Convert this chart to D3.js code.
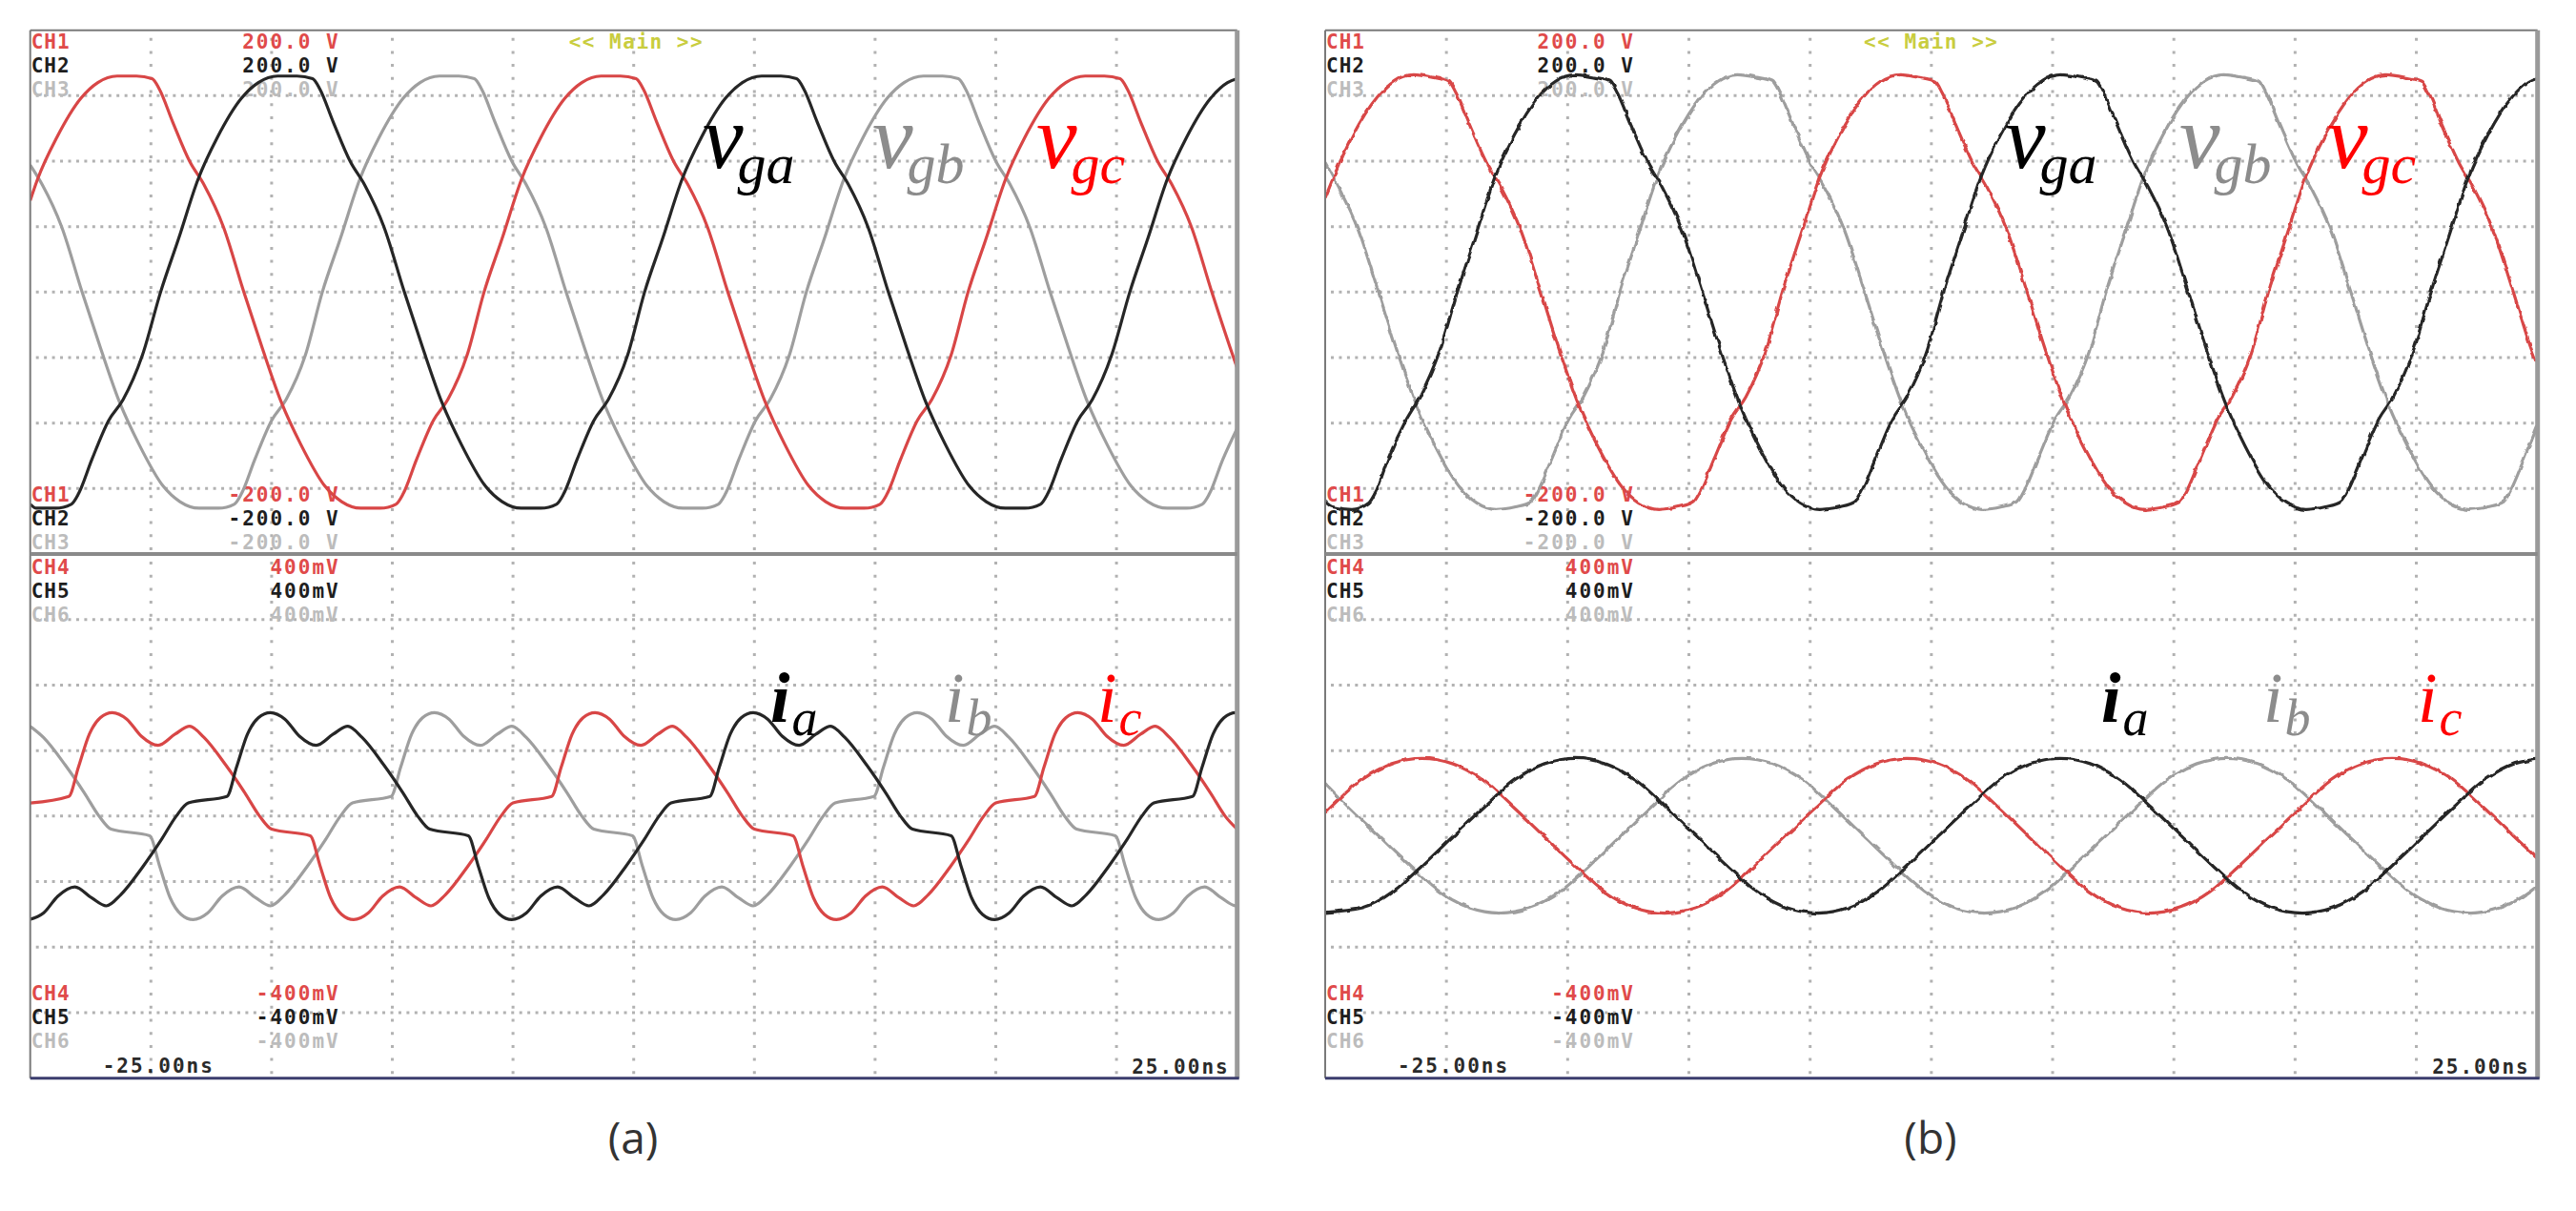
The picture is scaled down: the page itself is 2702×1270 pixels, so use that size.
<!DOCTYPE html>
<html>
<head>
<meta charset="utf-8">
<script src="https://cdn.jsdelivr.net/npm/d3@7"></script>
<style>
  body { margin: 0; background: #fff; }
  svg { display: block; }
</style>
</head>
<body>
<svg id="chart" width="2702" height="1270"></svg>
<script>
// time axis in ms, 5 ms / div, 10 div
const timeDomain = [-25, 25]
const gridT = [-20, -15, -10, -5, 0, 5, 10, 15, 20]
const gridV = [-150, -100, -50, 0, 50, 100, 150]
const gridI = [-300, -200, -100, 0, 100, 200, 300]

const chV = ['CH1', 'CH2', 'CH3']
const chI = ['CH4', 'CH5', 'CH6']
const voltTop = ['200.0 V', '200.0 V', '200.0 V']
const voltBot = ['-200.0 V', '-200.0 V', '-200.0 V']
const curTop = ['400mV', '400mV', '400mV']
const curBot = ['-400mV', '-400mV', '-400mV']
const timeLabels = ['-25.00ns', '25.00ns']
const panelNames = ['(a)', '(b)']

// ---- panel (a) grid voltages [ms, V] ----
const vgaA = [[-25,-162],[-24.75,-165],[-23.95,-165],[-23.3,-162],[-23.0,-154],[-22.45,-128],[-21.75,-98],[-21.15,-82],[-20.35,-48],
  [-19.6,0],[-18.85,41],[-18.05,86],[-17.25,118],[-16.25,148],[-15.55,160],[-14.75,165],[-13.95,165],[-13.3,163],[-13.0,155],[-12.45,130],[-11.75,100],[-11.15,82],[-10.35,50],[-9.5,0],[-8.75,-42],[-7.95,-84],[-7.15,-116],[-6.15,-148],[-5.45,-160],[-4.65,-165],[-3.85,-165],[-3.2,-162],[-2.9,-154],[-2.35,-128],[-1.65,-98],[-1.05,-82],[-0.25,-48],
  [0.45,0],[1.2,41],[2.0,86],[2.8,118],[3.8,148],[4.5,160],[5.3,165],[6.1,165],[6.75,163],[7.05,155],[7.6,130],[8.3,100],[8.9,82],[9.7,50],[10.55,0],[11.3,-42],[12.1,-84],[12.9,-116],[13.9,-148],[14.6,-160],[15.4,-165],[16.2,-165],[16.85,-162],[17.15,-154],[17.7,-128],[18.4,-98],[19.0,-82],[19.8,-48],
  [20.55,0],[21.3,41],[22.1,86],[22.9,118],[23.9,148],[24.6,160],[25,163]]
const vgbA = [[-25,97],[-24.5,82],[-23.7,50],[-22.85,0],[-22.1,-42],[-21.3,-84],[-20.5,-116],[-19.5,-148],[-18.8,-160],[-18.0,-165],[-17.2,-165],[-16.55,-162],[-16.25,-154],[-15.7,-128],[-15.0,-98],[-14.4,-82],[-13.6,-48],
  [-12.9,0],[-12.15,41],[-11.35,86],[-10.55,118],[-9.55,148],[-8.85,160],[-8.05,165],[-7.25,165],[-6.6,163],[-6.3,155],[-5.75,130],[-5.05,100],[-4.45,82],[-3.65,50],[-2.8,0],[-2.05,-42],[-1.25,-84],[-0.45,-116],[0.55,-148],[1.25,-160],[2.05,-165],[2.85,-165],[3.5,-162],[3.8,-154],[4.35,-128],[5.05,-98],[5.65,-82],[6.45,-48],
  [7.15,0],[7.9,41],[8.7,86],[9.5,118],[10.5,148],[11.2,160],[12.0,165],[12.8,165],[13.45,163],[13.75,155],[14.3,130],[15.0,100],[15.6,82],[16.4,50],[17.25,0],[18.0,-42],[18.8,-84],[19.6,-116],[20.6,-148],[21.3,-160],[22.1,-165],[22.9,-165],[23.55,-162],[23.85,-154],[24.4,-128],[25,-104]]
const vgcA = [[-25,70],[-24.7,86],[-23.9,118],[-22.9,148],[-22.2,160],[-21.4,165],[-20.6,165],[-19.95,163],[-19.65,155],[-19.1,130],[-18.4,100],[-17.8,82],[-17.0,50],[-16.15,0],[-15.4,-42],[-14.6,-84],[-13.8,-116],[-12.8,-148],[-12.1,-160],[-11.3,-165],[-10.5,-165],[-9.85,-162],[-9.55,-154],[-9.0,-128],[-8.3,-98],[-7.7,-82],[-6.9,-48],
  [-6.2,0],[-5.45,41],[-4.65,86],[-3.85,118],[-2.85,148],[-2.15,160],[-1.35,165],[-0.55,165],[0.1,163],[0.4,155],[0.95,130],[1.65,100],[2.25,82],[3.05,50],[3.9,0],[4.65,-42],[5.45,-84],[6.25,-116],[7.25,-148],[7.95,-160],[8.75,-165],[9.55,-165],[10.2,-162],[10.5,-154],[11.05,-128],[11.75,-98],[12.35,-82],[13.15,-48],
  [13.85,0],[14.6,41],[15.4,86],[16.2,118],[17.2,148],[17.9,160],[18.7,165],[19.5,165],[20.15,163],[20.45,155],[21.0,130],[21.7,100],[22.3,82],[23.1,50],[23.95,0],[24.7,-42],[25,-58]]

// ---- panel (a) currents [ms, mV] ----
const iaA = [[-25.05,-158],[-24.45,-148],[-23.85,-122],[-23.15,-108],[-22.45,-125],[-21.85,-137],[-21.25,-120],[-20.35,-78],[-19.55,-35],[-18.95,0],[-18.45,20],[-16.85,30],[-16.45,75],[-16.0,125],[-15.55,150],
  [-15.05,158],[-14.45,148],[-13.85,122],[-13.15,108],[-12.45,125],[-11.85,137],[-11.25,120],[-10.35,78],[-9.55,35],[-8.95,0],[-8.45,-20],[-6.85,-30],[-6.45,-75],[-6.0,-125],[-5.55,-150],[-5.05,-158],[-4.45,-148],[-3.85,-122],[-3.15,-108],[-2.45,-125],[-1.85,-137],[-1.25,-120],[-0.35,-78],[0.45,-35],[1.05,0],[1.55,20],[3.15,30],[3.55,75],[4.0,125],[4.45,150],
  [4.95,158],[5.55,148],[6.15,122],[6.85,108],[7.55,125],[8.15,137],[8.75,120],[9.65,78],[10.45,35],[11.05,0],[11.55,-20],[13.15,-30],[13.55,-75],[14.0,-125],[14.45,-150],[14.95,-158],[15.55,-148],[16.15,-122],[16.85,-108],[17.55,-125],[18.15,-137],[18.75,-120],[19.65,-78],[20.45,-35],[21.05,0],[21.55,20],[23.15,30],[23.55,75],[24.0,125],[24.45,150],[24.95,158],[25,158]]
const ibA = [[-25,137],[-24.45,120],[-23.55,78],[-22.75,35],[-22.15,0],[-21.65,-20],[-20.05,-30],[-19.65,-75],[-19.2,-125],[-18.75,-150],[-18.25,-158],[-17.65,-148],[-17.05,-122],[-16.35,-108],[-15.65,-125],[-15.05,-137],[-14.45,-120],[-13.55,-78],[-12.75,-35],[-12.15,0],[-11.65,20],[-10.05,30],[-9.65,75],[-9.2,125],[-8.75,150],
  [-8.25,158],[-7.65,148],[-7.05,122],[-6.35,108],[-5.65,125],[-5.05,137],[-4.45,120],[-3.55,78],[-2.75,35],[-2.15,0],[-1.65,-20],[-0.05,-30],[0.35,-75],[0.8,-125],[1.25,-150],[1.75,-158],[2.35,-148],[2.95,-122],[3.65,-108],[4.35,-125],[4.95,-137],[5.55,-120],[6.45,-78],[7.25,-35],[7.85,0],[8.35,20],[9.95,30],[10.35,75],[10.8,125],[11.25,150],
  [11.75,158],[12.35,148],[12.95,122],[13.65,108],[14.35,125],[14.95,137],[15.55,120],[16.45,78],[17.25,35],[17.85,0],[18.35,-20],[19.95,-30],[20.35,-75],[20.8,-125],[21.25,-150],[21.75,-158],[22.35,-148],[22.95,-122],[23.65,-108],[24.35,-125],[24.95,-137],[25,-136]]
const icA = [[-25,20],[-23.4,30],[-23.0,75],[-22.55,125],[-22.1,150],
  [-21.6,158],[-21.0,148],[-20.4,122],[-19.7,108],[-19.0,125],[-18.4,137],[-17.8,120],[-16.9,78],[-16.1,35],[-15.5,0],[-15.0,-20],[-13.4,-30],[-13.0,-75],[-12.55,-125],[-12.1,-150],[-11.6,-158],[-11.0,-148],[-10.4,-122],[-9.7,-108],[-9.0,-125],[-8.4,-137],[-7.8,-120],[-6.9,-78],[-6.1,-35],[-5.5,0],[-5.0,20],[-3.4,30],[-3.0,75],[-2.55,125],[-2.1,150],
  [-1.6,158],[-1.0,148],[-0.4,122],[0.3,108],[1.0,125],[1.6,137],[2.2,120],[3.1,78],[3.9,35],[4.5,0],[5.0,-20],[6.6,-30],[7.0,-75],[7.45,-125],[7.9,-150],[8.4,-158],[9.0,-148],[9.6,-122],[10.3,-108],[11.0,-125],[11.6,-137],[12.2,-120],[13.1,-78],[13.9,-35],[14.5,0],[15.0,20],[16.6,30],[17.0,75],[17.45,125],[17.9,150],
  [18.4,158],[19.0,148],[19.6,122],[20.3,108],[21.0,125],[21.6,137],[22.2,120],[23.1,78],[23.9,35],[24.5,0],[25,-20]]

// ---- panel (b) grid voltages [ms, V] ----
const vgaB = [[-25,-160],[-24.7,-164],[-23.9,-166],[-23.2,-161],[-22.9,-152],[-22.4,-127],[-21.7,-99],[-21.1,-80],[-20.3,-46],
  [-19.55,0],[-18.8,43],[-18.0,88],[-17.2,120],[-16.2,149],[-15.5,161],[-14.7,166],[-13.9,164],[-13.25,161],[-12.95,152],[-12.4,128],[-11.7,99],[-11.1,80],[-10.3,48],[-9.45,0],[-8.7,-44],[-7.9,-86],[-7.1,-118],[-6.1,-149],[-5.4,-161],[-4.6,-166],[-3.8,-164],[-3.15,-160],[-2.85,-151],[-2.3,-127],[-1.6,-97],[-1.0,-80],[-0.2,-46],
  [0.5,0],[1.25,43],[2.05,88],[2.85,120],[3.85,149],[4.55,161],[5.35,166],[6.15,164],[6.8,161],[7.1,152],[7.65,128],[8.35,99],[8.95,80],[9.75,48],[10.6,0],[11.35,-44],[12.15,-86],[12.95,-118],[13.95,-149],[14.65,-161],[15.45,-166],[16.25,-164],[16.9,-160],[17.2,-151],[17.75,-127],[18.45,-97],[19.05,-80],[19.85,-46],
  [20.6,0],[21.35,43],[22.15,88],[22.95,120],[23.95,149],[24.65,161],[25,164]]
const vgbB = [[-25,99],[-24.45,80],[-23.65,48],[-22.8,0],[-22.05,-44],[-21.25,-86],[-20.45,-118],[-19.45,-149],[-18.75,-161],[-17.95,-166],[-17.15,-164],[-16.5,-160],[-16.2,-151],[-15.65,-127],[-14.95,-97],[-14.35,-80],[-13.55,-46],
  [-12.85,0],[-12.1,43],[-11.3,88],[-10.5,120],[-9.5,149],[-8.8,161],[-8.0,166],[-7.2,164],[-6.55,161],[-6.25,152],[-5.7,128],[-5.0,99],[-4.4,80],[-3.6,48],[-2.75,0],[-2.0,-44],[-1.2,-86],[-0.4,-118],[0.6,-149],[1.3,-161],[2.1,-166],[2.9,-164],[3.55,-160],[3.85,-151],[4.4,-127],[5.1,-97],[5.7,-80],[6.5,-46],
  [7.2,0],[7.95,43],[8.75,88],[9.55,120],[10.55,149],[11.25,161],[12.05,166],[12.85,164],[13.5,161],[13.8,152],[14.35,128],[15.05,99],[15.65,80],[16.45,48],[17.3,0],[18.05,-44],[18.85,-86],[19.65,-118],[20.65,-149],[21.35,-161],[22.15,-166],[22.95,-164],[23.6,-160],[23.9,-151],[24.45,-127],[25,-102]]
const vgcB = [[-25,72],[-24.65,88],[-23.85,120],[-22.85,149],[-22.15,161],[-21.35,166],[-20.55,164],[-19.9,161],[-19.6,152],[-19.05,128],[-18.35,99],[-17.75,80],[-16.95,48],[-16.1,0],[-15.35,-44],[-14.55,-86],[-13.75,-118],[-12.75,-149],[-12.05,-161],[-11.25,-166],[-10.45,-164],[-9.8,-160],[-9.5,-151],[-8.95,-127],[-8.25,-97],[-7.65,-80],[-6.85,-46],
  [-6.15,0],[-5.4,43],[-4.6,88],[-3.8,120],[-2.8,149],[-2.1,161],[-1.3,166],[-0.5,164],[0.15,161],[0.45,152],[1.0,128],[1.7,99],[2.3,80],[3.1,48],[3.95,0],[4.7,-44],[5.5,-86],[6.3,-118],[7.3,-149],[8.0,-161],[8.8,-166],[9.6,-164],[10.25,-160],[10.55,-151],[11.1,-127],[11.8,-97],[12.4,-80],[13.2,-46],
  [13.9,0],[14.65,43],[15.45,88],[16.25,120],[17.25,149],[17.95,161],[18.75,166],[19.55,164],[20.2,161],[20.5,152],[21.05,128],[21.75,99],[22.35,80],[23.15,48],[24.0,0],[24.75,-44],[25,-56]]

// ---- panel (b) currents [ms, mV] ----
const iaB = [[-25,-147],[-23.45,-140],[-22.2,-115],[-20.95,-74],[-19.7,-30],[-18.45,14],[-17.2,55],[-15.95,80],[-14.7,88],[-13.45,80],[-12.2,55],[-10.95,14],[-9.7,-30],[-8.45,-74],[-7.2,-115],[-5.95,-140],[-4.7,-148],[-3.45,-140],[-2.2,-115],[-0.95,-74],[0.3,-30],[1.55,14],[2.8,55],[4.05,80],[5.3,88],[6.55,80],[7.8,55],[9.05,14],[10.3,-30],[11.55,-74],[12.8,-115],[14.05,-140],[15.3,-148],[16.55,-140],[17.8,-115],[19.05,-74],[20.3,-30],[21.55,14],[22.8,55],[24.05,80],[25,87]]
const ibB = [[-25,50],[-24.05,14],[-22.8,-30],[-21.55,-74],[-20.3,-115],[-19.05,-140],[-17.8,-148],[-16.55,-140],[-15.3,-115],[-14.05,-74],[-12.8,-30],[-11.55,14],[-10.3,55],[-9.05,80],[-7.8,88],[-6.55,80],[-5.3,55],[-4.05,14],[-2.8,-30],[-1.55,-74],[-0.3,-115],[0.95,-140],[2.2,-148],[3.45,-140],[4.7,-115],[5.95,-74],[7.2,-30],[8.45,14],[9.7,55],[10.95,80],[12.2,88],[13.45,80],[14.7,55],[15.95,14],[17.2,-30],[18.45,-74],[19.7,-115],[20.95,-140],[22.2,-148],[23.45,-140],[24.7,-115],[25,-106]]
const icB = [[-25,5],[-23.5,55],[-22.25,80],[-21.0,88],[-19.75,80],[-18.5,55],[-17.25,14],[-16.0,-30],[-14.75,-74],[-13.5,-115],[-12.25,-140],[-11.0,-148],[-9.75,-140],[-8.5,-115],[-7.25,-74],[-6.0,-30],[-4.75,14],[-3.5,55],[-2.25,80],[-1.0,88],[0.25,80],[1.5,55],[2.75,14],[4.0,-30],[5.25,-74],[6.5,-115],[7.75,-140],[9.0,-148],[10.25,-140],[11.5,-115],[12.75,-74],[14.0,-30],[15.25,14],[16.5,55],[17.75,80],[19.0,88],[20.25,80],[21.5,55],[22.75,14],[24.0,-30],[25,-65]]

// ---- layout ----
const yTop = 31.7, yMid = 581, yBottom = 1130.7
const colA = '#262626', colB = '#9e9e9e', colC = '#d84646'
const chColors = ['#e04a4a', '#1e1e1e', '#bcbcbc']

const panels = [
  { left: 31.7, right: 1297.7, name: panelNames[0], nameX: 664, rough: 0,
    volts: [vgbA, vgcA, vgaA], curs: [ibA, icA, iaA],
    vLab: [737, 915, 1087], iLab: [808, 991, 1151] },
  { left: 1390, right: 2661.7, name: panelNames[1], nameX: 2025, rough: 3,
    volts: [vgbB, vgcB, vgaB], curs: [ibB, icB, iaB],
    vLab: [2103, 2286, 2441], iLab: [2204, 2374, 2536] }
]
const traceColors = [colB, colC, colA]

const svg = d3.select('#chart')
svg.append('rect').attr('width', 2702).attr('height', 1270).attr('fill', '#fff')

// slight trace jitter for the noisier measurement (b)
const defs = svg.append('defs')
const jit = defs.append('filter').attr('id', 'jitter')
    .attr('x', '-2%').attr('y', '-2%').attr('width', '104%').attr('height', '104%')
jit.append('feTurbulence').attr('type', 'fractalNoise').attr('baseFrequency', 0.09)
    .attr('numOctaves', 2).attr('seed', 4).attr('result', 'n')
jit.append('feDisplacementMap').attr('in', 'SourceGraphic').attr('in2', 'n')
    .attr('scale', 4).attr('xChannelSelector', 'R').attr('yChannelSelector', 'G')

panels.forEach(p => drawPanel(p))

function drawPanel(p) {
  const g = svg.append('g')
  const x = d3.scaleLinear().domain(timeDomain).range([p.left, p.right])
  const yV = d3.scaleLinear().domain([-200, 200]).range([yMid, yTop])
  const yI = d3.scaleLinear().domain([-400, 400]).range([yBottom, yMid])

  // dotted graticule
  const grid = g.append('g').attr('stroke', '#b2b2b2').attr('stroke-width', 3)
  grid.selectAll('.gv').data(gridT).join('line')
      .attr('x1', d => x(d)).attr('x2', d => x(d))
      .attr('y1', yTop + 8).attr('y2', yMid - 4)
      .attr('stroke-dasharray', '3 10.7')
  grid.selectAll('.gv2').data(gridT).join('line')
      .attr('x1', d => x(d)).attr('x2', d => x(d))
      .attr('y1', yMid + 8).attr('y2', yBottom - 4)
      .attr('stroke-dasharray', '3 10.7')
  grid.selectAll('.hv').data(gridV).join('line')
      .attr('x1', p.left + 6).attr('x2', p.right - 4)
      .attr('y1', d => yV(d)).attr('y2', d => yV(d))
      .attr('stroke-dasharray', '3 5.45')
  grid.selectAll('.hi').data(gridI).join('line')
      .attr('x1', p.left + 6).attr('x2', p.right - 4)
      .attr('y1', d => yI(d)).attr('y2', d => yI(d))
      .attr('stroke-dasharray', '3 5.45')

  // channel texts
  const mono = g.append('g').attr('font-family', 'DejaVu Sans Mono, monospace')
      .attr('font-size', 21).attr('font-weight', 'bold')
  const rows = [
    { names: chV, vals: voltTop, y0: 51 },
    { names: chV, vals: voltBot, y0: 526 },
    { names: chI, vals: curTop, y0: 602 },
    { names: chI, vals: curBot, y0: 1049 }
  ]
  rows.forEach(r => {
    r.names.forEach((n, i) => {
      mono.append('text').attr('x', p.left + 1).attr('y', r.y0 + i * 25)
          .attr('fill', chColors[i]).attr('letter-spacing', 1).text(n)
      mono.append('text').attr('x', p.left + 325).attr('y', r.y0 + i * 25)
          .attr('text-anchor', 'end').attr('letter-spacing', 2)
          .attr('fill', chColors[i]).text(r.vals[i])
    })
  })
  mono.append('text').attr('x', p.left + 565).attr('y', 51)
      .attr('fill', '#c9cd3e').attr('letter-spacing', 1.5).text('<< Main >>')
  mono.append('text').attr('x', p.left + 76).attr('y', 1125)
      .attr('fill', '#2a2a2a').attr('letter-spacing', 2).text(timeLabels[0])
  mono.append('text').attr('x', p.right - 8).attr('y', 1126)
      .attr('text-anchor', 'end').attr('fill', '#2a2a2a').attr('letter-spacing', 2).text(timeLabels[1])

  // traces
  const lineV = d3.line().x(d => x(d[0])).y(d => yV(d[1])).curve(d3.curveMonotoneX)
  const lineI = d3.line().x(d => x(d[0])).y(d => yI(d[1])).curve(d3.curveMonotoneX)
  const clip = 'clip' + p.name.replace(/\W/g, '')
  svg.append('clipPath').attr('id', clip).append('rect')
      .attr('x', p.left).attr('y', yTop).attr('width', p.right - p.left).attr('height', yBottom - yTop)
  const tr = g.append('g').attr('clip-path', `url(#${clip})`)
      .append('g').attr('fill', 'none')
      .attr('stroke-width', 3.2).attr('stroke-linejoin', 'round')
  if (p.rough) tr.attr('filter', 'url(#jitter)')
  tr.selectAll('.v').data(p.volts).join('path')
      .attr('d', lineV).attr('stroke', (d, i) => traceColors[i])
  tr.selectAll('.i').data(p.curs).join('path')
      .attr('d', lineI).attr('stroke', (d, i) => traceColors[i])

  // frame
  g.append('line').attr('x1', p.left).attr('x2', p.right).attr('y1', yTop).attr('y2', yTop)
      .attr('stroke', '#7a7a7a').attr('stroke-width', 2)
  g.append('line').attr('x1', p.left).attr('x2', p.left).attr('y1', yTop).attr('y2', yBottom)
      .attr('stroke', '#7a7a7a').attr('stroke-width', 2)
  g.append('line').attr('x1', p.right).attr('x2', p.right).attr('y1', yTop).attr('y2', yBottom)
      .attr('stroke', '#9a9a9a').attr('stroke-width', 5)
  g.append('line').attr('x1', p.left).attr('x2', p.right).attr('y1', yMid).attr('y2', yMid)
      .attr('stroke', '#8a8a8a').attr('stroke-width', 4)
  g.append('line').attr('x1', p.left).attr('x2', p.right + 2).attr('y1', yBottom).attr('y2', yBottom)
      .attr('stroke', '#3b3d6e').attr('stroke-width', 3)

  // phase labels: one text each, subscript as tspan
  const serif = g.append('g').attr('font-family', 'Liberation Serif, serif').attr('font-style', 'italic')
  const vSubs = ['ga', 'gb', 'gc'], iSubs = ['a', 'b', 'c']
  const labColors = ['#000', '#8c8c8c', '#ff0000']
  vSubs.forEach((s, i) => {
    const t = serif.append('text').attr('x', p.vLab[i]).attr('y', 176).attr('fill', labColors[i])
    t.append('tspan').attr('font-size', 96).text('v')
    t.append('tspan').attr('font-size', 60).attr('dx', -6).attr('dy', 16).text(s)
  })
  iSubs.forEach((s, i) => {
    const t = serif.append('text').attr('x', p.iLab[i]).attr('y', 757).attr('fill', labColors[i])
    t.append('tspan').attr('font-size', 74).attr('font-weight', i === 0 ? 'bold' : 'normal').text('i')
    t.append('tspan').attr('font-size', 54).attr('dx', 2).attr('dy', 14).text(s)
  })

  // panel caption
  g.append('text').attr('x', p.nameX).attr('y', 1210).attr('text-anchor', 'middle')
      .attr('font-family', 'Open Sans, sans-serif').attr('font-size', 46)
      .attr('fill', '#333').text(p.name)
}
</script>
</body>
</html>
